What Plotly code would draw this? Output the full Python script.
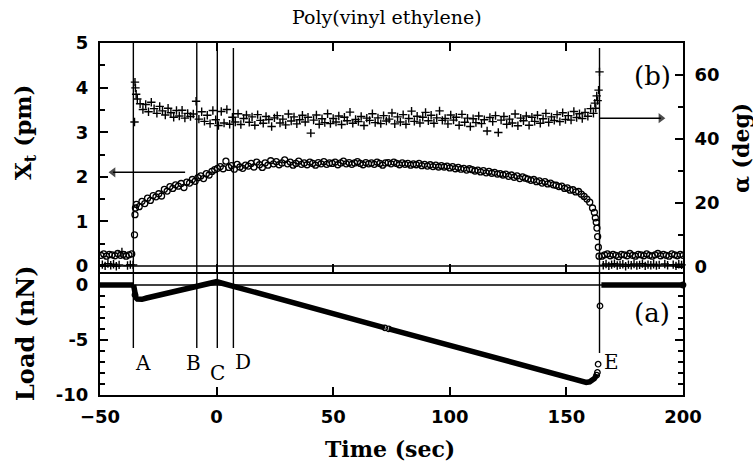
import numpy as np
import plotly.graph_objects as go

# ---------------- data ----------------
# Lateral displacement X_t (pm): uniform 1.2 s sampling while the tip is in contact
XT_T0, XT_DT = -34.4, 1.2
xt_contact = [
    1.38, 1.33, 1.45, 1.40, 1.52, 1.47, 1.58, 1.55, 1.62, 1.57,
    1.72, 1.68, 1.78, 1.74, 1.82, 1.79, 1.85, 1.76, 1.88, 1.86,
    1.94, 1.90, 1.98, 2.02, 1.96, 2.07, 2.04, 2.12, 2.16, 2.19,
    2.23, 2.18, 2.35, 2.21, 2.25, 2.17, 2.28, 2.22, 2.19, 2.26,
    2.24, 2.30, 2.22, 2.33, 2.27, 2.21, 2.31, 2.26, 2.36, 2.29,
    2.34, 2.27, 2.31, 2.38, 2.29, 2.33, 2.26, 2.30, 2.35, 2.28,
    2.31, 2.27, 2.33, 2.30, 2.26, 2.32, 2.29, 2.34, 2.28, 2.31,
    2.30, 2.33, 2.27, 2.31, 2.35, 2.29, 2.32, 2.28, 2.31, 2.34,
    2.30, 2.27, 2.32, 2.29, 2.31, 2.28, 2.33, 2.30, 2.26, 2.31,
    2.32, 2.29, 2.33, 2.30, 2.27, 2.31, 2.28, 2.30, 2.26, 2.29,
    2.27, 2.30, 2.25, 2.28, 2.24, 2.27, 2.23, 2.26, 2.22, 2.25,
    2.22, 2.24, 2.20, 2.23, 2.18, 2.21, 2.17, 2.19, 2.15, 2.18,
    2.16, 2.13, 2.15, 2.11, 2.14, 2.09, 2.12, 2.08, 2.10, 2.06,
    2.07, 2.04, 2.06, 2.01, 2.04, 1.99, 2.02, 1.96, 2.00, 1.97,
    1.95, 1.92, 1.94, 1.89, 1.91, 1.86, 1.89, 1.84, 1.86, 1.82,
    1.81, 1.78, 1.79, 1.74, 1.75, 1.70, 1.71, 1.66, 1.67, 1.61,
    1.56, 1.50, 1.43, 1.30,
]
xt_head_t = [-35.2, -35.0, -34.8]
xt_head = [0.70, 1.15, 1.30]
xt_tail_t = [162.0, 162.4, 162.8, 163.1, 163.4, 163.7, 164.0]
xt_tail = [1.20, 1.08, 0.98, 0.85, 0.66, 0.42, 0.22]
XT_PRE_T0, XT_POST_T0 = -49.6, 165.2
xt_pre = [0.24, 0.27, 0.22, 0.26, 0.25, 0.23, 0.28, 0.24, 0.26, 0.22, 0.25, 0.27]
xt_post = [0.22, 0.25, 0.27, 0.23, 0.26, 0.24, 0.21, 0.26, 0.25, 0.23,
           0.28, 0.24, 0.22, 0.26, 0.25, 0.23, 0.27, 0.24, 0.22, 0.25,
           0.28, 0.23, 0.26, 0.24, 0.22, 0.27, 0.25, 0.23, 0.26, 0.24]

# Phase angle alpha (deg)
AL_T0, AL_DT = -34.0, 1.2
alpha_contact = [
    52.5, 51.0, 49.2, 50.8, 48.5, 51.5, 49.5, 48.0, 50.2, 48.8,
    47.5, 49.6, 48.2, 46.8, 48.9, 47.2, 49.0, 46.5, 48.0, 47.0,
    47.8, 51.8, 46.2, 48.5, 45.5, 47.4, 44.8, 48.9, 46.0, 44.2,
    48.6, 45.0, 49.2, 44.6, 46.8, 45.3, 47.9, 44.5, 46.4, 47.5,
    45.2, 46.9, 44.3, 47.6, 45.8, 44.9, 47.0, 46.1, 43.9, 46.6,
    47.3, 45.0, 46.2, 44.4, 47.8, 45.6, 46.9, 44.7, 46.0, 47.4,
    45.3, 46.8, 41.8, 45.9, 47.5, 44.6, 46.3, 45.1, 47.9, 44.8,
    46.4, 45.3, 47.2, 44.5, 46.8, 45.7, 48.4, 44.9, 46.1, 45.4,
    47.0, 44.2, 46.5, 45.8, 47.9, 45.1, 46.6, 44.8, 47.3, 45.6,
    46.2, 48.1, 44.7, 46.9, 45.3, 47.6, 44.6, 46.4, 48.7, 45.5,
    47.1, 45.0, 46.8, 48.3, 45.7, 47.4, 44.9, 46.6, 48.8, 45.8,
    46.4, 44.7, 47.5, 45.9, 46.8, 44.3, 47.7, 45.2, 46.5, 43.9,
    46.3, 45.1, 47.2, 44.8, 46.0, 42.5, 46.7, 45.4, 47.3, 42.0,
    45.9, 47.0, 44.6, 46.2, 45.0, 47.8, 44.1, 46.5, 45.7, 47.2,
    44.3, 46.8, 45.5, 47.4, 44.9, 46.3, 48.0, 45.2, 46.9, 45.8,
    47.6, 45.4, 48.2, 46.1, 47.3, 45.9, 48.6, 46.7, 47.9, 46.4,
    48.3, 47.1, 49.5, 48.0,
]
alpha_head_t = [-35.2, -35.0, -34.8, -34.5]
alpha_head = [45.3, 57.8, 56.0, 54.0]
alpha_tail_t = [162.2, 162.6, 163.0, 163.4, 163.8, 164.2]
alpha_tail = [51.2, 49.6, 53.5, 52.0, 55.3, 61.0]
AL_PRE_T0, AL_POST_T0 = -49.0, 165.8
alpha_pre = [0.6, 0.2, 0.9, 0.4, 0.7, 0.1, 0.5, 4.6, -7.3, 0.3, 0.6, 0.5]
alpha_post = [0.4, 0.8, 0.2, 0.6, 0.9, 0.3, 0.5, 0.7, 0.1, 0.6,
              0.4, 0.8, 0.3, 0.5, 0.9, 0.2, 0.6, 0.4, 0.7, 0.3,
              0.5, -2.0, 0.8, 0.4, -7.3, 0.6, 0.2, 0.7, 0.5]

# Normal load (nN); None marks the breaks in the record
load_t = [-50.0, -35.6, None,
          -35.6, -35.4, -35.2, -35.0, -34.6, -34.0, -33.0, -32.0, -30.0, -20.0,
          -10.0, 0.0, 2.0, 5.0, 10.0, 20.0, 30.0, 40.0, 50.0, 60.0, 72.2, None,
          73.8, 80.0, 90.0, 100.0, 110.0, 120.0, 130.0, 140.0, 150.0, 153.0,
          155.0, 157.0, 158.5, 160.0, 161.0, 162.0, 162.6, 163.0, None,
          165.0, 200.0]
load = [0.0, 0.0, None,
        0.0, -0.3, -0.6, -0.9, -1.15, -1.27, -1.32, -1.30, -1.18, -0.69,
        -0.20, 0.30, 0.18, 0.01, -0.28, -0.86, -1.44, -2.02, -2.60, -3.18, -3.89, None,
        -3.98, -4.34, -4.92, -5.50, -6.08, -6.66, -7.24, -7.82, -8.40, -8.60,
        -8.72, -8.82, -8.85, -8.80, -8.70, -8.50, -8.30, -8.10, None,
        0.0, 0.0]
load_mark_t = [-35.0, 72.2, 73.8, 163.0, 163.3, 163.6, 164.4, 200.0]
load_mark = [-0.9, -3.89, -3.98, -8.2, -7.95, -7.2, -1.9, 0.0]

# Event markers
event_names = ["A", "B", "C", "D", "E"]
event_t = [-35.7, -8.5, 0.3, 7.2, 164.2]

# Guide arrows: (tail time, tip time, level) for X_t (left axis) and alpha (right axis)
arrow_xt = (-13.5, -44.4, 2.1)
arrow_alpha = (164.2, 190.5, 46.5)

# tick labels
xt_ticks = [0, 1, 2, 3, 4, 5]
alpha_ticks = [0, 20, 40, 60]
load_ticks = [-10, -5, 0]
time_ticks = [-50, 0, 50, 100, 150, 200]

# ---------------- figure ----------------
W, H = 753, 464


def px(x):
    return x / W


def py(y):
    return (H - y) / H


X_DOM = [px(100), px(683)]
BOT_DOM = [py(395), py(272)]
TOP_DOM = [py(272), py(43)]

fig = go.Figure()

circle = dict(symbol="circle-open", size=6, color="black", line=dict(width=1.3, color="black"))
plus = dict(symbol="cross-thin", size=6, color="black", line=dict(width=1.4, color="black"))

t_xt = XT_T0 + XT_DT * np.arange(len(xt_contact))
t_xt_pre = XT_PRE_T0 + XT_DT * np.arange(len(xt_pre))
t_xt_post = XT_POST_T0 + XT_DT * np.arange(len(xt_post))
t_al = AL_T0 + AL_DT * np.arange(len(alpha_contact))
t_al_pre = AL_PRE_T0 + AL_DT * np.arange(len(alpha_pre))
t_al_post = AL_POST_T0 + AL_DT * np.arange(len(alpha_post))

xt_x = list(t_xt_pre) + xt_head_t + list(t_xt) + xt_tail_t + list(t_xt_post)
xt_y = xt_pre + xt_head + xt_contact + xt_tail + xt_post
al_x = list(t_al_pre) + alpha_head_t + list(t_al) + alpha_tail_t + list(t_al_post)
al_y = alpha_pre + alpha_head + alpha_contact + alpha_tail + alpha_post

fig.add_trace(go.Scatter(x=xt_x, y=xt_y, xaxis="x2", yaxis="y2", mode="markers",
                         marker=circle, showlegend=False, hoverinfo="skip"))
fig.add_trace(go.Scatter(x=al_x, y=al_y, xaxis="x2", yaxis="y3", mode="markers",
                         marker=plus, showlegend=False, cliponaxis=False, hoverinfo="skip"))
fig.add_trace(go.Scatter(x=load_t, y=load, xaxis="x", yaxis="y", mode="lines",
                         line=dict(color="black", width=5.5), connectgaps=False,
                         showlegend=False, hoverinfo="skip"))
fig.add_trace(go.Scatter(x=load_mark_t, y=load_mark, xaxis="x", yaxis="y", mode="markers",
                         marker=dict(symbol="circle-open", size=5.5, color="black",
                                     line=dict(width=1.3, color="black")),
                         cliponaxis=False, showlegend=False, hoverinfo="skip"))

# arrows: shaft as a line, head as a triangle marker at the tip
for (tail, tip, level), yax, head in ((arrow_xt, "y2", "triangle-left"),
                                      (arrow_alpha, "y3", "triangle-right")):
    fig.add_trace(go.Scatter(x=[tail, tip], y=[level, level], xaxis="x2", yaxis=yax,
                             mode="lines", line=dict(color="black", width=1.5),
                             showlegend=False, hoverinfo="skip"))
    fig.add_trace(go.Scatter(x=[tip], y=[level], xaxis="x2", yaxis=yax, mode="markers",
                             marker=dict(symbol=head, size=[9], color="black",
                                         line=dict(width=0)),
                             showlegend=False, hoverinfo="skip"))

tickfont = dict(family="DejaVu Sans", size=18, color="black", weight="bold")
common = dict(showline=True, linewidth=2, linecolor="black", ticks="inside",
              tickwidth=1.5, tickcolor="black", showgrid=False, zeroline=False,
              tickfont=tickfont, automargin=False)

fig.update_layout(
    width=W, height=H,
    margin=dict(l=0, r=0, t=0, b=0, autoexpand=False),
    paper_bgcolor="white", plot_bgcolor="rgba(0,0,0,0)",
    # bottom panel: time axis with labels
    xaxis=dict(domain=X_DOM, anchor="y", range=[-50, 200], tickmode="array",
               tickvals=time_ticks, ticklen=8, mirror=False,
               ticklabelstandoff=4, **common),
    # ticks hanging down from the panel divider
    xaxis3=dict(overlaying="x", anchor="y", side="top", range=[-50, 200],
                tickmode="array", tickvals=time_ticks, ticks="inside", ticklen=7,
                tickwidth=1.5, tickcolor="black", showline=False, showticklabels=False,
                showgrid=False, zeroline=False, automargin=False),
    yaxis=dict(domain=BOT_DOM, anchor="x", range=[-10, 13 / 11], tickmode="array",
               tickvals=load_ticks, ticktext=[str(v) for v in load_ticks], ticklen=8,
               mirror="ticks", ticklabelstandoff=6,
               minor=dict(tickvals=[-9, -8, -7, -6, -4, -3, -2, -1], ticks="inside",
                          ticklen=5, tickwidth=1.5, tickcolor="black"),
               **common),
    # top panel
    xaxis2=dict(domain=X_DOM, anchor="y2", range=[-50, 200], tickmode="array",
                tickvals=time_ticks, ticklen=8, mirror="ticks", showticklabels=False,
                **common),
    yaxis2=dict(domain=TOP_DOM, anchor="x2", range=[-6 / 44.6, 5], tickmode="array",
                tickvals=xt_ticks, ticklen=8, ticklabelstandoff=6,
                minor=dict(tickvals=[0.5, 1.5, 2.5, 3.5, 4.5], ticks="inside",
                           ticklen=5, tickwidth=1.5, tickcolor="black"),
                **common),
    yaxis3=dict(overlaying="y2", anchor="x2", side="right", range=[-5.5 / 3.19, 223.5 / 3.19],
                tickmode="array", tickvals=alpha_ticks, ticklen=8, ticklabelstandoff=6,
                minor=dict(tickvals=[10, 30, 50], ticks="inside", ticklen=5,
                           tickwidth=1.5, tickcolor="black"),
                **common),
)

# event lines A-E
shapes = []
for name, t in zip(event_names, event_t):
    top = 43 if name in ("A", "B", "C") else 48
    bottom = 353 if name == "E" else 348
    shapes.append(dict(type="line", xref="x", yref="paper", x0=t, x1=t,
                       y0=py(bottom), y1=py(top), line=dict(color="black", width=1.4)))
# zero references of both panels
shapes.append(dict(type="line", xref="paper", yref="y2", x0=X_DOM[0], x1=X_DOM[1],
                   y0=0, y1=0, line=dict(color="black", width=1.4)))
shapes.append(dict(type="line", xref="paper", yref="y", x0=X_DOM[0], x1=X_DOM[1],
                   y0=0, y1=0, line=dict(color="black", width=1.4)))
fig.update_layout(shapes=shapes)

serif = "DejaVu Serif"
ann = []
# event letters
letter_pos = {"A": (143, 363), "B": (193, 363), "C": (217, 373), "D": (243, 362), "E": (611, 362)}
for name in event_names:
    x, y = letter_pos[name]
    ann.append(dict(xref="paper", yref="paper", x=px(x), y=py(y), text=name, showarrow=False,
                    xanchor="center", yanchor="middle",
                    font=dict(family=serif, size=20, color="black")))
# panel tags
ann.append(dict(xref="paper", yref="paper", x=px(652), y=py(76), text="(b)", showarrow=False,
                xanchor="center", yanchor="middle", font=dict(family=serif, size=26, color="black")))
ann.append(dict(xref="paper", yref="paper", x=px(652), y=py(313), text="(a)", showarrow=False,
                xanchor="center", yanchor="middle", font=dict(family=serif, size=26, color="black")))
# titles
ann.append(dict(xref="paper", yref="paper", x=px(387), y=py(17), text="Poly(vinyl ethylene)",
                showarrow=False, xanchor="center", yanchor="middle",
                font=dict(family=serif, size=19, color="black")))
ann.append(dict(xref="paper", yref="paper", x=px(390), y=py(449), text="Time (sec)",
                showarrow=False, xanchor="center", yanchor="middle",
                font=dict(family=serif, size=22, color="black", weight="bold")))
ann.append(dict(xref="paper", yref="paper", x=px(25), y=py(132), text="X<sub>t</sub> (pm)",
                showarrow=False, textangle=-90, xanchor="center", yanchor="middle",
                font=dict(family=serif, size=23, color="black", weight="bold")))
ann.append(dict(xref="paper", yref="paper", x=px(25), y=py(333), text="Load (nN)",
                showarrow=False, textangle=-90, xanchor="center", yanchor="middle",
                font=dict(family=serif, size=24, color="black", weight="bold")))
ann.append(dict(xref="paper", yref="paper", x=px(741), y=py(148), text="α (deg)",
                showarrow=False, textangle=-90, xanchor="center", yanchor="middle",
                font=dict(family=serif, size=22, color="black", weight="bold")))
fig.update_layout(annotations=ann)

fig.write_html("out.html")
